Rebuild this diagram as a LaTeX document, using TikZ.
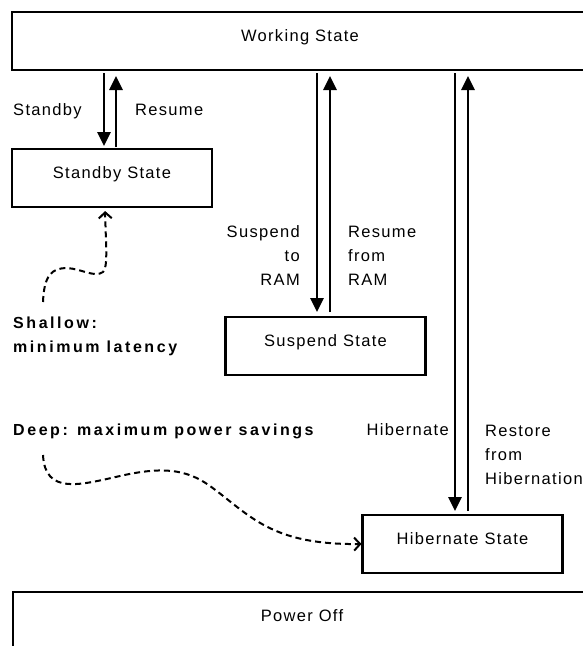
\documentclass[tikz,border=0pt]{standalone}
\usepackage{fontspec}
\setmainfont{Liberation Sans}[LetterSpace=8]
\newfontfamily\boldlbl{Liberation Sans Bold}[LetterSpace=16]
\usetikzlibrary{arrows.meta}
\begin{document}
\begin{tikzpicture}[x=1pt,y=-1pt,
  statebox/.style={draw, line width=2.8pt, minimum width=200pt, minimum height=58pt,
    inner sep=0pt, outer sep=0pt, text height=12pt, text depth=12pt,
    font=\fontsize{16.5pt}{24pt}\selectfont},
  lbl/.style={inner sep=0pt, font=\fontsize{16.5pt}{24pt}\selectfont},
  boldtxt/.style={inner sep=0pt, font=\boldlbl\fontsize{16pt}{24pt}\selectfont, align=left},
  trans/.style={line width=2.8pt, -{Triangle[length=14pt,width=13pt]}},
  hint/.style={line width=2pt, dash pattern=on 6pt off 4pt,
    -{Straight Barb[length=6pt,width=13pt,line width=2pt]}},
]
\useasboundingbox (0,0) rectangle (582,646);
% state boxes
\node[statebox, minimum width=576pt] (ws) at (300,41) {Working State};
\node[statebox] (sb) at (112,178) {Standby State};
\node[statebox] (ss) at (325.5,346) {Suspend State};
\node[statebox] (hs) at (462.5,544) {Hibernate State};
\node[statebox, minimum width=578pt] (po) at (302,621) {Power Off};
% x positions of the transition arrows
\coordinate (xa) at (104,0);
\coordinate (xb) at (116,0);
\coordinate (xc) at (317,0);
\coordinate (xd) at (330,0);
\coordinate (xe) at (455,0);
\coordinate (xf) at (468,0);
\coordinate (xg) at (105,0);
% transitions
\draw[trans, shorten <=3pt, shorten >=3pt] (xa |- ws.south) -- (xa |- sb.north);
\draw[trans, shorten <=2pt, shorten >=6pt] (xb |- sb.north) -- (xb |- ws.south);
\draw[trans, shorten <=3pt, shorten >=5pt] (xc |- ws.south) -- (xc |- ss.north);
\draw[trans, shorten <=5pt, shorten >=6pt] (xd |- ss.north) -- (xd |- ws.south);
\draw[trans, shorten <=3pt, shorten >=4pt] (xe |- ws.south) -- (xe |- hs.north);
\draw[trans, shorten <=4pt, shorten >=6pt] (xf |- hs.north) -- (xf |- ws.south);
% labels (multi-line nodes: base anchor is the last line's baseline)
\node[lbl, anchor=base west] (lstandby) at (13,115) {Standby};
\node[lbl, anchor=base west] (lresume) at (135,115) {Resume};
\node[lbl, align=right, anchor=base east] (lsusp) at (300,285) {Suspend\\to\\RAM};
\node[lbl, align=left, anchor=base west] (lresram) at (348,285) {Resume\\from\\RAM};
\node[lbl, anchor=base east] (lhib) at (449,435) {Hibernate};
\node[lbl, align=left, anchor=base west] (lrest) at (485,484) {Restore\\from\\Hibernation};
\node[boldtxt, anchor=base west] (shallow) at (13,352) {Shallow:\\minimum latency};
\node[boldtxt, anchor=base west] (deep) at (13,435) {Deep: maximum power savings};
% dashed hints
\coordinate (sh0) at (43,302);
\coordinate (dp0) at (43,455);
\draw[hint, shorten >=4pt] (sh0) .. controls (44,275) and (52,268) .. (67,268)
  .. controls (82,269) and (95,278) .. (103,272)
  .. controls (108,266) and (106,250) .. (sb.south -| xg);
\draw[hint, shorten >=1pt] (dp0) .. controls (45,495) and (80,485) .. (120,476)
  .. controls (160,467) and (185,468) .. (210,486)
  .. controls (250,515) and (270,545) .. (hs.west);
\end{tikzpicture}
\end{document}
